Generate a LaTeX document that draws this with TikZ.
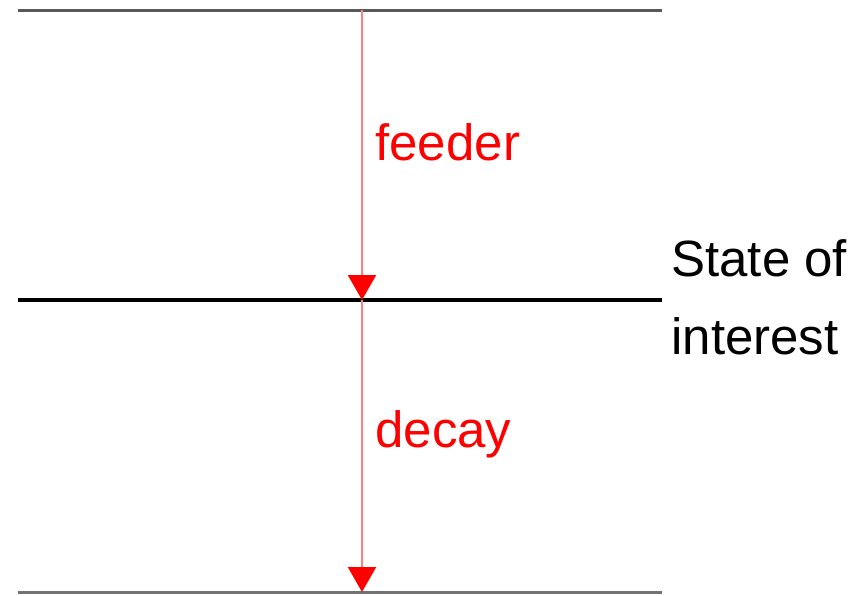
\documentclass[tikz,border=0pt]{standalone}
\usepackage{fontspec}
\setmainfont{Liberation Sans}
\usetikzlibrary{arrows.meta,positioning}

\begin{document}
\begin{tikzpicture}[x=0.5pt,y=-0.5pt,
    level/.style={line width=1.5pt,draw=black!65},
    main level/.style={line width=2pt,draw=black},
    transition/.style={line width=1.2pt,draw=red!50,-{Triangle[length=12.5pt,width=14pt,color=red]}},
    label text/.style={font=\fontsize{25.5}{30}\selectfont,anchor=base west,inner sep=0pt}]
    \useasboundingbox (0,0) rectangle (863,595);
    % levels
    \coordinate (upper left) at (18,10);
    \coordinate (upper right) at (662,10);
    \coordinate (mid left) at (18,300);
    \coordinate (mid right) at (662,300);
    \coordinate (low left) at (18,592);
    \coordinate (low right) at (662,592);
    \coordinate (upper) at (362,10);
    \coordinate (mid) at (362,300);
    \coordinate (low) at (362,592);
    \draw[level] (upper left) -- (upper right);
    \draw[main level] (mid left) -- (mid right);
    \draw[level,draw=black!55] (low left) -- (low right);
    % transitions
    \draw[transition] (upper) -- (mid);
    \draw[transition] (mid) -- (low);
    \node[label text,text=red] (feeder) at (375,160) {feeder};
    \node[label text,text=red] (decay) at (375,447) {decay};
    \node[label text] (state) at (671,276) {State of};
    \node[label text] (interest) at (671,354) {interest};
\end{tikzpicture}
\end{document}
